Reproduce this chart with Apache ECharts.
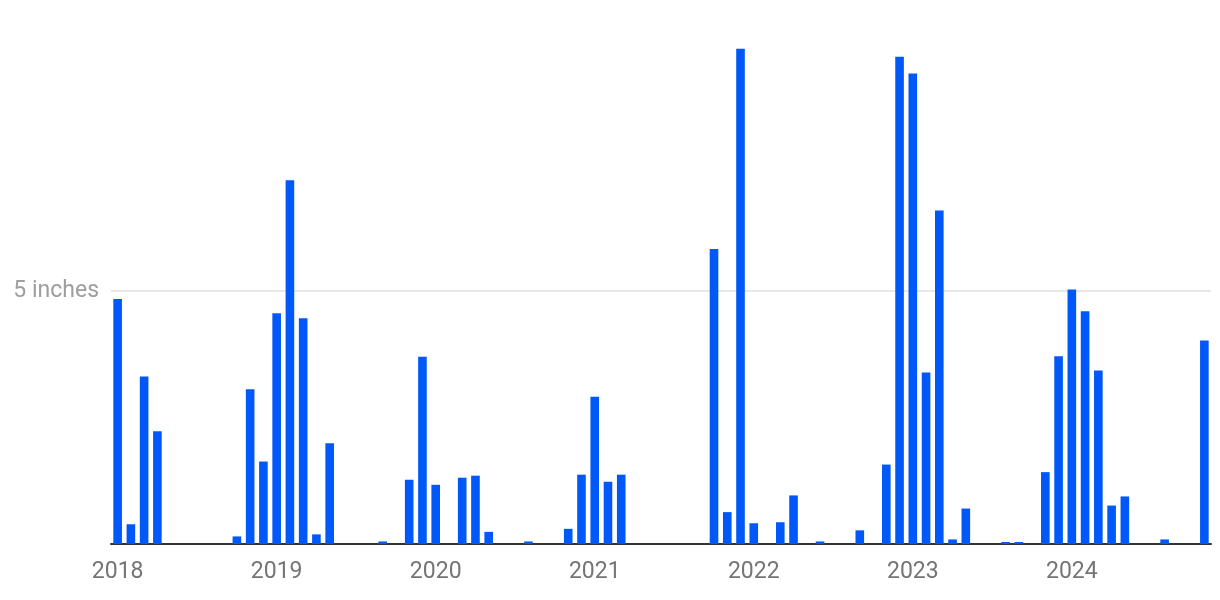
<!DOCTYPE html>
<html>
<head>
<meta charset="utf-8">
<title>Monthly precipitation</title>
<script src="https://cdn.jsdelivr.net/npm/echarts@6/dist/echarts.min.js"></script>
<style>
  html, body { margin: 0; padding: 0; background: #fff; }
  #chart { width: 1220px; height: 600px; }
</style>
</head>
<body>
<div id="chart"></div>
<script>
// monthly totals, inches (Jan..Dec)
const years = [2018, 2019, 2020, 2021, 2022, 2023, 2024]
const rain2018 = [4.84, 0.39, 3.31, 2.23, 0, 0, 0, 0, 0, 0.15, 3.06, 1.63]
const rain2019 = [4.56, 7.19, 4.46, 0.19, 1.99, 0, 0, 0, 0.05, 0, 1.27, 3.70]
const rain2020 = [1.17, 0, 1.31, 1.35, 0.24, 0, 0, 0.05, 0, 0, 0.30, 1.37]
const rain2021 = [2.91, 1.23, 1.37, 0, 0, 0, 0, 0, 0, 5.83, 0.63, 9.79]
const rain2022 = [0.41, 0, 0.43, 0.96, 0, 0.05, 0, 0, 0.27, 0, 1.57, 9.63]
const rain2023 = [9.30, 3.39, 6.59, 0.09, 0.70, 0, 0, 0.04, 0.04, 0, 1.42, 3.71]
const rain2024 = [5.03, 4.60, 3.43, 0.76, 0.94, 0, 0, 0.09, 0, 0, 4.02]
const yTicks = [0, 5, 10]

const values = [].concat(rain2018, rain2019, rain2020, rain2021, rain2022, rain2023, rain2024)
let months = []
years.forEach((y) => {
  for (let m = 1; m <= 12; m++) {
    months.push(y + '-' + (m < 10 ? '0' + m : m))
  }
})
months = months.slice(0, values.length)

const myChart = echarts.init(document.getElementById('chart'))
const option = {
  animation: false,
  textStyle: { fontFamily: 'Roboto' },
  grid: {
    left: 111,
    right: 9,
    top: 38,
    bottom: 56
  },
  xAxis: {
    type: 'category',
    data: months,
    axisLine: {
      lineStyle: { color: '#333', width: 2 }
    },
    axisTick: { show: false },
    axisLabel: {
      interval: 11, // only January
      color: '#757575',
      fontSize: 23,
      margin: 17,
      formatter: (v) => v.slice(0, 4)
    }
  },
  yAxis: {
    type: 'value',
    min: yTicks[0],
    max: yTicks[yTicks.length - 1],
    interval: 5,
    axisLine: { show: false },
    axisTick: { show: false },
    axisLabel: {
      color: '#9e9e9e',
      fontSize: 23,
      margin: 12,
      padding: [4, 0, 0, 0],
      formatter: (v) => (v === 5 ? '5 inches' : '')
    },
    splitLine: {
      show: true,
      lineStyle: {
        color: ['transparent', '#e8e8e8', 'transparent'],
        width: 2
      }
    }
  },
  series: [
    {
      name: 'Precipitation',
      type: 'bar',
      data: values,
      barWidth: '65%',
      itemStyle: { color: '#0058f8' }
    }
  ]
}
myChart.setOption(option)
window.addEventListener('resize', () => myChart.resize())
</script>
</body>
</html>
